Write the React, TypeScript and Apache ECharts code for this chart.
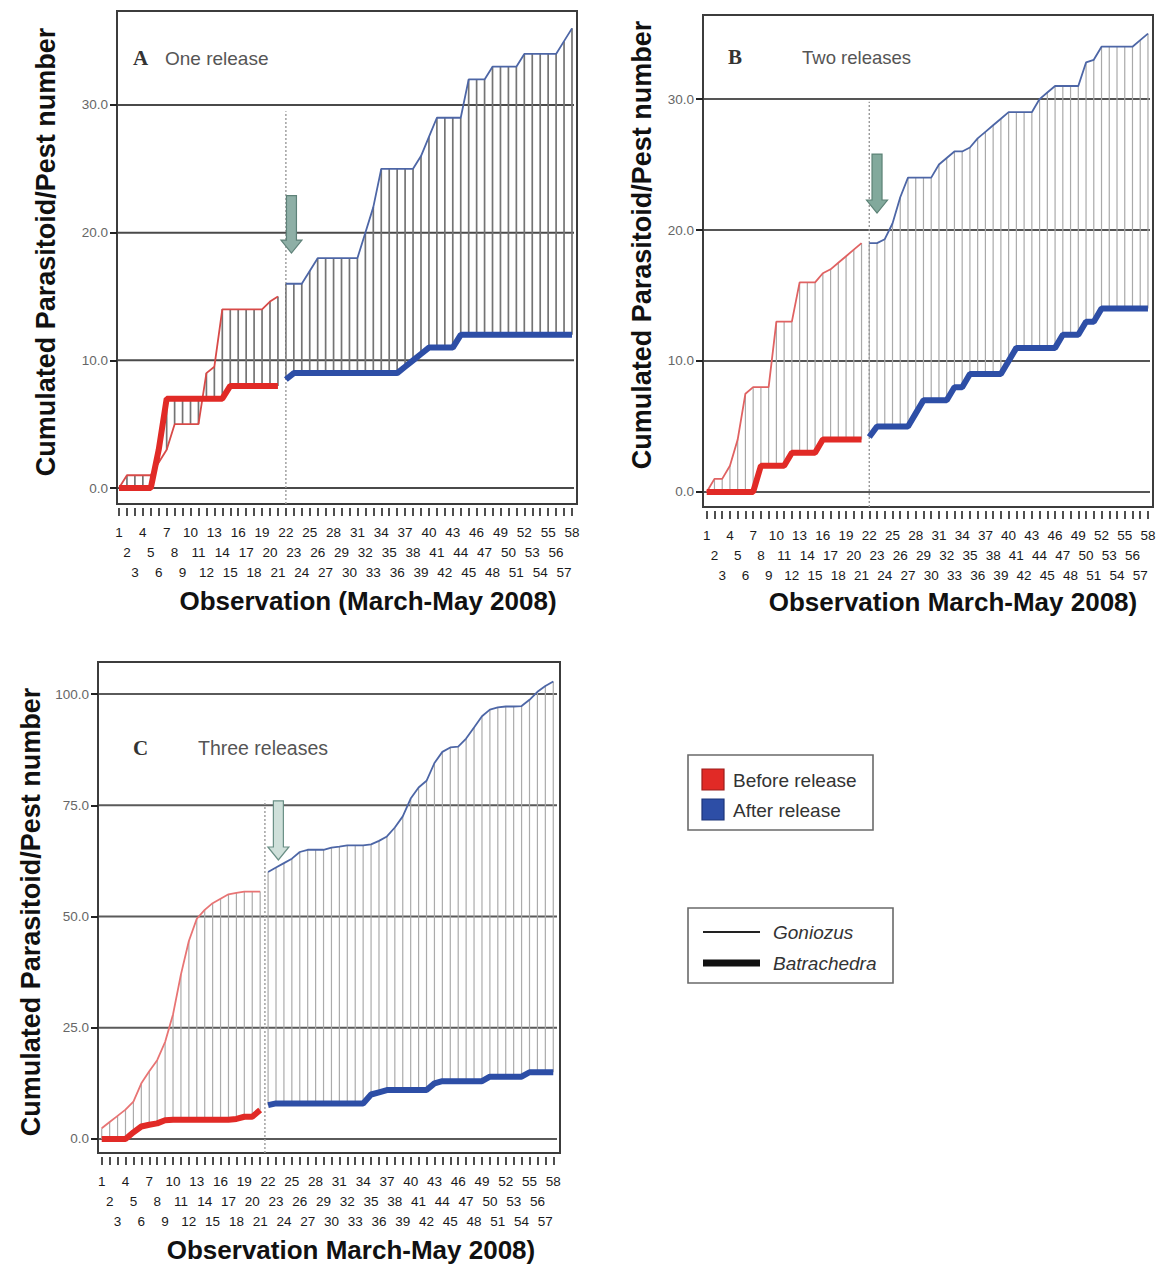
import React, { useEffect, useRef } from "react";
import * as echarts from "echarts";

// ---------- data ----------
const observations = [
  1, 2, 3, 4, 5, 6, 7, 8, 9, 10, 11, 12, 13, 14, 15, 16, 17, 18, 19, 20, 21,
  22, 23, 24, 25, 26, 27, 28, 29, 30, 31, 32, 33, 34, 35, 36, 37, 38, 39, 40,
  41, 42, 43, 44, 45, 46, 47, 48, 49, 50, 51, 52, 53, 54, 55, 56, 57, 58,
];
// tick labels are staggered on three rows
const labelRow1 = [1, 4, 7, 10, 13, 16, 19, 22, 25, 28, 31, 34, 37, 40, 43, 46, 49, 52, 55, 58];
const labelRow2 = [2, 5, 8, 11, 14, 17, 20, 23, 26, 29, 32, 35, 38, 41, 44, 47, 50, 53, 56];
const labelRow3 = [3, 6, 9, 12, 15, 18, 21, 24, 27, 30, 33, 36, 39, 42, 45, 48, 51, 54, 57];
const labelRows = [labelRow1, labelRow2, labelRow3];

const releaseObs = 22; // first observation after release
const beforeObs = observations.filter((o) => o < releaseObs);
const afterObs = observations.filter((o) => o >= releaseObs);

const yTicksAB = [0, 10, 20, 30];
const yTicksC = [0, 25, 50, 75, 100];

// Panel A – one release
const aGonBefore = [0, 1, 1, 1, 1, 2, 3, 5, 5, 5, 5, 9, 9.5, 14, 14, 14, 14, 14, 14, 14.6, 15];
const aBatBefore = [0, 0, 0, 0, 0, 3, 7, 7, 7, 7, 7, 7, 7, 7, 8, 8, 8, 8, 8, 8, 8];
const aGonAfter = [16, 16, 16, 17, 18, 18, 18, 18, 18, 18, 20, 22, 25, 25, 25, 25, 25, 26, 27.5, 29, 29, 29, 29, 32, 32, 32, 33, 33, 33, 33, 34, 34, 34, 34, 34, 35, 36];
const aBatAfter = [8.5, 9, 9, 9, 9, 9, 9, 9, 9, 9, 9, 9, 9, 9, 9, 9.5, 10, 10.5, 11, 11, 11, 11, 12, 12, 12, 12, 12, 12, 12, 12, 12, 12, 12, 12, 12, 12, 12];

// Panel B – two releases
const bGonBefore = [0, 1, 1, 2, 4, 7.5, 8, 8, 8, 13, 13, 13, 16, 16, 16, 16.7, 17, 17.5, 18, 18.5, 19];
const bBatBefore = [0, 0, 0, 0, 0, 0, 0, 2, 2, 2, 2, 3, 3, 3, 3, 4, 4, 4, 4, 4, 4];
const bGonAfter = [19, 19, 19.3, 20.5, 22.5, 24, 24, 24, 24, 25, 25.5, 26, 26, 26.3, 27, 27.5, 28, 28.5, 29, 29, 29, 29, 30, 30.5, 31, 31, 31, 31, 32.8, 33, 34, 34, 34, 34, 34, 34.5, 35];
const bBatAfter = [4.2, 5, 5, 5, 5, 5, 6, 7, 7, 7, 7, 8, 8, 9, 9, 9, 9, 9, 10, 11, 11, 11, 11, 11, 11, 12, 12, 12, 13, 13, 14, 14, 14, 14, 14, 14, 14];

// Panel C – three releases
const cGonBefore = [2.4, 3.8, 5.2, 6.6, 8.4, 12.5, 15.2, 17.7, 21.8, 28, 37, 44.5, 49.5, 51.5, 53, 54, 55, 55.3, 55.6, 55.6, 55.6];
const cBatBefore = [0, 0, 0, 0, 1.5, 2.8, 3.2, 3.5, 4.2, 4.3, 4.3, 4.3, 4.3, 4.3, 4.3, 4.3, 4.3, 4.5, 5, 5, 6.5];
const cGonAfter = [60, 61, 62, 63, 64.5, 65, 65, 65, 65.5, 65.7, 66, 66, 66, 66.2, 67, 68, 70, 72.5, 76.5, 79, 80.5, 84.5, 87, 88, 88.2, 90, 92.5, 95, 96.5, 97, 97.2, 97.2, 97.3, 98.7, 100.5, 101.8, 102.8];
const cBatAfter = [7.6, 8, 8, 8, 8, 8, 8, 8, 8, 8, 8, 8, 8, 10, 10.5, 11, 11, 11, 11, 11, 11, 12.5, 13, 13, 13, 13, 13, 13, 14, 14, 14, 14, 14, 15, 15, 15, 15];

// annotation positions (observation, value top, value tip)
const arrowA = [22.7, 22.9, 18.4];
const arrowB = [23, 25.8, 21.3];
const arrowC = [23.3, 76, 62.7];

const FONT = '"Liberation Sans", Arial, Helvetica, sans-serif';
const SERIF = '"Liberation Serif", "Times New Roman", serif';

const RED = "#e12a26";
const BLUE = "#2d4ea6";
const RED_THIN = "#d84a48";
const BLUE_THIN = "#4d66a6";

type Panel = {
  gonBefore: number[];
  batBefore: number[];
  gonAfter: number[];
  batAfter: number[];
  ticks: number[];
  grid: { left: number; top: number; width: number; height: number };
  xMin: number;
  xMax: number;
  yMin: number;
  yMax: number;
  releaseLineAt: number;
  releaseLineTop: number;
  arrow: number[];
  arrowFill: string;
  arrowStroke: string;
  dropColor: string;
  dropWidth: number;
  gridLineColor: string;
  redThin: string;
};

const panels: Panel[] = [
  {
    gonBefore: aGonBefore, batBefore: aBatBefore, gonAfter: aGonAfter, batAfter: aBatAfter,
    ticks: yTicksAB,
    grid: { left: 117, top: 11, width: 460, height: 493 },
    xMin: 0.75, xMax: 58.63, yMin: -1.25, yMax: 37.36,
    releaseLineAt: 22, releaseLineTop: 29.5,
    arrow: arrowA, arrowFill: "#8eafa6", arrowStroke: "#5f8279",
    dropColor: "#747474", dropWidth: 1.7, gridLineColor: "#4a4a4a", redThin: RED_THIN,
  },
  {
    gonBefore: bGonBefore, batBefore: bBatBefore, gonAfter: bGonAfter, batAfter: bBatAfter,
    ticks: yTicksAB,
    grid: { left: 703, top: 15, width: 450, height: 492 },
    xMin: 0.52, xMax: 58.65, yMin: -1.15, yMax: 36.42,
    releaseLineAt: 22, releaseLineTop: 29.8,
    arrow: arrowB, arrowFill: "#82a99c", arrowStroke: "#5c8276",
    dropColor: "#a9a9a9", dropWidth: 1.2, gridLineColor: "#555555", redThin: "#e06262",
  },
  {
    gonBefore: cGonBefore, batBefore: cBatBefore, gonAfter: cGonAfter, batAfter: cBatAfter,
    ticks: yTicksC,
    grid: { left: 98, top: 662, width: 462, height: 491 },
    xMin: 0.53, xMax: 58.85, yMin: -3.15, yMax: 107.2,
    releaseLineAt: 21.6, releaseLineTop: 76,
    arrow: arrowC, arrowFill: "#cfe0da", arrowStroke: "#6a8f85",
    dropColor: "#ababab", dropWidth: 1.2, gridLineColor: "#5a5a5a", redThin: "#e87474",
  },
];

const pairs = (xs: number[], ys: number[]) => xs.map((x, i) => [x, ys[i]]);

function buildOption() {
  const grid: any[] = [];
  const xAxis: any[] = [];
  const yAxis: any[] = [];
  const series: any[] = [];

  panels.forEach((p, idx) => {
    grid.push({
      ...p.grid,
      show: true,
      borderColor: "#3c3c3c",
      borderWidth: 2,
      backgroundColor: "#ffffff",
      containLabel: false,
    });
    const xBase = xAxis.length;
    // tick axis (all observations)
    xAxis.push({
      type: "value",
      gridIndex: idx,
      position: "bottom",
      min: p.xMin,
      max: p.xMax,
      offset: 4,
      axisLine: { show: false, onZero: false },
      splitLine: { show: false },
      axisTick: {
        show: true,
        customValues: observations,
        length: 8,
        lineStyle: { color: "#222", width: 1.6 },
      },
      axisLabel: { show: false },
    });
    // three label rows
    labelRows.forEach((row, r) => {
      xAxis.push({
        type: "value",
        gridIndex: idx,
        position: "bottom",
        min: p.xMin,
        max: p.xMax,
        offset: 4,
        axisLine: { show: false, onZero: false },
        splitLine: { show: false },
        axisTick: { show: false },
        axisLabel: {
          show: true,
          customValues: row,
          showMinLabel: true,
          showMaxLabel: true,
          hideOverlap: false,
          margin: 17 + r * 20,
          fontSize: 13.5,
          fontFamily: FONT,
          color: "#1a1a1a",
          formatter: (v: number) => String(Math.round(v)),
        },
      });
    });
    yAxis.push({
      type: "value",
      gridIndex: idx,
      min: p.yMin,
      max: p.yMax,
      axisLine: { show: false, onZero: false },
      splitLine: { show: false },
      axisTick: {
        show: true,
        customValues: p.ticks,
        length: 7,
        lineStyle: { color: "#222", width: 2 },
      },
      axisLabel: {
        show: true,
        customValues: p.ticks,
        showMinLabel: true,
        showMaxLabel: true,
        margin: 9,
        fontSize: 13.5,
        fontFamily: FONT,
        color: "#666",
        formatter: (v: number) => v.toFixed(1),
      },
    });

    const ax = { xAxisIndex: xBase, yAxisIndex: idx };

    // horizontal reference lines at the y ticks
    series.push({
      type: "custom",
      ...ax,
      z: 1,
      silent: true,
      data: p.ticks.map((t) => [observations[0], t]),
      encode: { x: 0, y: 1 },
      renderItem: (params: any, api: any) => {
        const y = api.coord([api.value(0), api.value(1)])[1];
        const cs = params.coordSys;
        return {
          type: "line",
          shape: { x1: cs.x + 1, y1: y, x2: cs.x + cs.width - 3, y2: y },
          style: { stroke: p.gridLineColor, lineWidth: 2 },
        };
      },
    });

    // hi-lo drop lines between Goniozus and Batrachedra
    const gon = [...p.gonBefore, ...p.gonAfter];
    const bat = [...p.batBefore, ...p.batAfter];
    series.push({
      type: "custom",
      ...ax,
      z: 2,
      silent: true,
      data: observations.map((o, i) => [o, bat[i], gon[i]]),
      encode: { x: 0, y: [1, 2] },
      renderItem: (params: any, api: any) => {
        const a = api.coord([api.value(0), api.value(1)]);
        const b = api.coord([api.value(0), api.value(2)]);
        return {
          type: "line",
          shape: { x1: a[0], y1: a[1], x2: b[0], y2: b[1] },
          style: { stroke: p.dropColor, lineWidth: p.dropWidth },
        };
      },
    });

    // dotted release line
    series.push({
      type: "custom",
      ...ax,
      z: 2,
      silent: true,
      data: [[p.releaseLineAt, p.yMin, p.releaseLineTop]],
      encode: { x: 0, y: [1, 2] },
      renderItem: (params: any, api: any) => {
        const a = api.coord([api.value(0), api.value(1)]);
        const b = api.coord([api.value(0), api.value(2)]);
        return {
          type: "line",
          shape: { x1: a[0], y1: a[1], x2: b[0], y2: b[1] },
          style: { stroke: "#9a9a9a", lineWidth: 1.4, lineDash: [2, 2] },
        };
      },
    });

    // Goniozus (thin) and Batrachedra (thick) lines
    series.push({
      type: "line", ...ax, z: 3, name: "Goniozus before",
      data: pairs(beforeObs, p.gonBefore), showSymbol: false,
      lineStyle: { color: p.redThin, width: 1.8 }, itemStyle: { color: p.redThin },
    });
    series.push({
      type: "line", ...ax, z: 3, name: "Goniozus after",
      data: pairs(afterObs, p.gonAfter), showSymbol: false,
      lineStyle: { color: BLUE_THIN, width: 1.8 }, itemStyle: { color: BLUE_THIN },
    });
    series.push({
      type: "line", ...ax, z: 4, name: "Batrachedra before",
      data: pairs(beforeObs, p.batBefore), showSymbol: false,
      lineStyle: { color: RED, width: 6 }, itemStyle: { color: RED },
    });
    series.push({
      type: "line", ...ax, z: 4, name: "Batrachedra after",
      data: pairs(afterObs, p.batAfter), showSymbol: false,
      lineStyle: { color: BLUE, width: 6 }, itemStyle: { color: BLUE },
    });

    // release arrow
    series.push({
      type: "custom",
      ...ax,
      z: 5,
      silent: true,
      data: [p.arrow],
      encode: { x: 0, y: [1, 2] },
      renderItem: (params: any, api: any) => {
        const top = api.coord([api.value(0), api.value(1)]);
        const tip = api.coord([api.value(0), api.value(2)]);
        const x = top[0];
        const sw = 5, hw = 10.5, hh = 13;
        return {
          type: "polygon",
          shape: {
            points: [
              [x - sw, top[1]], [x + sw, top[1]], [x + sw, tip[1] - hh], [x + hw, tip[1] - hh],
              [x, tip[1]], [x - hw, tip[1] - hh], [x - sw, tip[1] - hh],
            ],
          },
          style: { fill: p.arrowFill, stroke: p.arrowStroke, lineWidth: 1.2 },
        };
      },
    });
  });

  const txt = (x: number, y: number, text: string, font: string, fill = "#111", align = "left", rotation = 0) => ({
    type: "text",
    x, y, rotation,
    silent: true,
    z: 10,
    style: { text, font, fill, align, verticalAlign: "middle" },
  });

  const yTitle = "Cumulated Parasitoid/Pest number";
  const graphic: any[] = [
    // panel labels
    txt(133, 58, "A", `bold 21px ${SERIF}`, "#333"),
    txt(165, 58, "One release", `19px ${FONT}`, "#555"),
    txt(728, 57, "B", `bold 21px ${SERIF}`, "#333"),
    txt(802, 57, "Two releases", `18.5px ${FONT}`, "#555"),
    txt(133, 748, "C", `bold 21px ${SERIF}`, "#333"),
    txt(198, 748, "Three releases", `19.5px ${FONT}`, "#555"),
    // axis titles
    txt(46, 252, yTitle, `bold 27px ${FONT}`, "#111", "center", Math.PI / 2),
    txt(642, 245, yTitle, `bold 27px ${FONT}`, "#111", "center", Math.PI / 2),
    txt(31, 912, yTitle, `bold 27px ${FONT}`, "#111", "center", Math.PI / 2),
    txt(368, 601, "Observation (March-May 2008)", `bold 26px ${FONT}`, "#111", "center"),
    txt(953, 602, "Observation March-May 2008)", `bold 26px ${FONT}`, "#111", "center"),
    txt(351, 1250, "Observation March-May 2008)", `bold 26px ${FONT}`, "#111", "center"),
    // legend 1
    { type: "rect", silent: true, z: 10, shape: { x: 688, y: 755, width: 185, height: 75 }, style: { fill: "#fff", stroke: "#6a6a6a", lineWidth: 1.6 } },
    { type: "rect", silent: true, z: 11, shape: { x: 702, y: 769, width: 22, height: 21 }, style: { fill: RED, stroke: "#9c1d1a", lineWidth: 1.2 } },
    { type: "rect", silent: true, z: 11, shape: { x: 702, y: 799, width: 22, height: 21 }, style: { fill: BLUE, stroke: "#1d3478", lineWidth: 1.2 } },
    txt(733, 780, "Before release", `19px ${FONT}`, "#333"),
    txt(733, 810, "After release", `19px ${FONT}`, "#333"),
    // legend 2
    { type: "rect", silent: true, z: 10, shape: { x: 688, y: 908, width: 205, height: 75 }, style: { fill: "#fff", stroke: "#6a6a6a", lineWidth: 1.6 } },
    { type: "line", silent: true, z: 11, shape: { x1: 703, y1: 932, x2: 760, y2: 932 }, style: { stroke: "#222", lineWidth: 2 } },
    { type: "line", silent: true, z: 11, shape: { x1: 703, y1: 963, x2: 760, y2: 963 }, style: { stroke: "#111", lineWidth: 7 } },
    txt(773, 932, "Goniozus", `italic 19px ${FONT}`, "#333"),
    txt(773, 963, "Batrachedra", `italic 19px ${FONT}`, "#333"),
  ];

  return {
    animation: false,
    backgroundColor: "#ffffff",
    grid,
    xAxis,
    yAxis,
    series,
    graphic,
  };
}

export default function App() {
  const ref = useRef<HTMLDivElement>(null);
  useEffect(() => {
    if (!ref.current) return;
    const chart = echarts.init(ref.current, undefined, { renderer: "svg" });
    chart.setOption(buildOption() as any);
    return () => chart.dispose();
  }, []);
  return (
    <div
      ref={ref}
      style={{ position: "absolute", left: 0, top: 0, width: 1173, height: 1268, background: "#fff" }}
    />
  );
}
